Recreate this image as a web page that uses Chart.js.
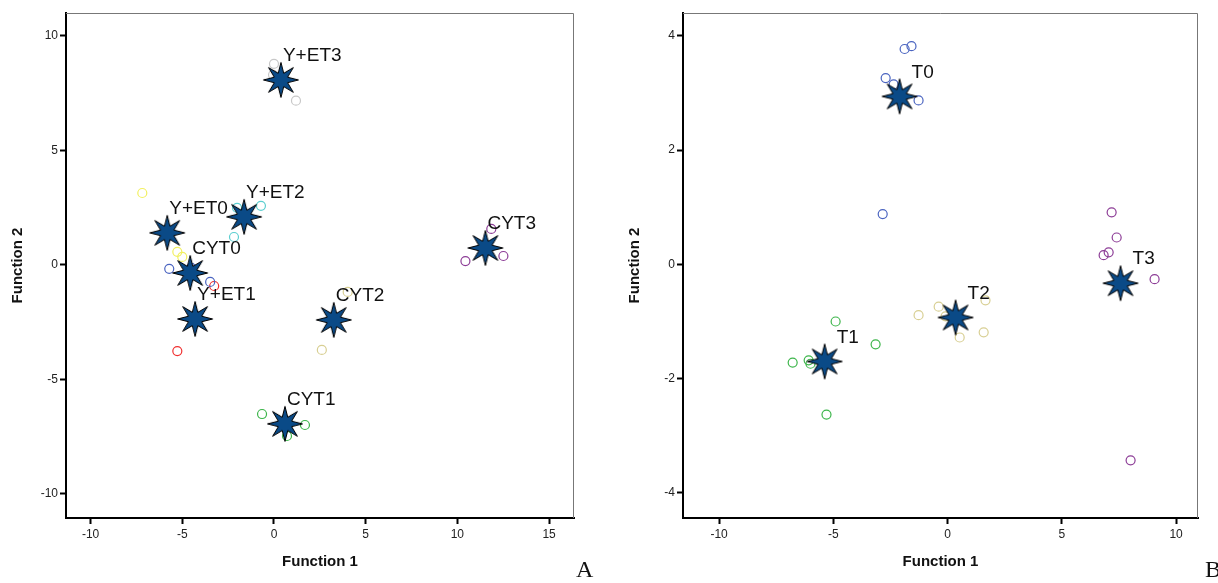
<!DOCTYPE html>
<html>
<head>
<meta charset="utf-8">
<script src="https://cdn.jsdelivr.net/npm/chart.js@4/dist/chart.umd.min.js"></script>
<style>
  body { margin: 0; background: #fff; width: 1218px; height: 583px; overflow: hidden; position: relative; }
  .panel { position: absolute; top: 0; height: 583px; }
  .letter { position: absolute; font-family: "Liberation Serif", "Times New Roman", serif; font-size: 24px; color: #111; }
</style>
</head>
<body>
<div class="panel" style="left:0;width:610px"><canvas id="chartA"></canvas></div>
<div class="panel" style="left:617px;width:601px"><canvas id="chartB"></canvas></div>
<div class="letter" style="left:576px;top:556px">A</div>
<div class="letter" style="left:1205px;top:556px">B</div>
<script>
// --- Panel A data ---
const groupsA = ['CYT0', 'CYT1', 'CYT2', 'CYT3', 'Y+ET0', 'Y+ET1', 'Y+ET2', 'Y+ET3'];
const centroidXA = [-4.57, 0.60, 3.26, 11.53, -5.82, -4.30, -1.63, 0.38];
const centroidYA = [-0.35, -6.94, -2.40, 0.74, 1.40, -2.36, 2.10, 8.08];
const casesXA = [
  [-5.71, -3.48, -4.51],
  [-0.65, 1.69, 0.71],
  [4.02, 2.61, 3.15],
  [11.85, 12.51, 10.44],
  [-7.18, -5.27, -5.00],
  [-3.26, -5.27, -4.35],
  [-0.71, -2.18, -2.01],
  [0.00, 1.20, -0.05]
];
const casesYA = [
  [-0.17, -0.74, -0.13],
  [-6.51, -6.99, -7.47],
  [-1.18, -3.71, -2.31],
  [1.57, 0.39, 0.17],
  [3.14, 0.57, 0.35],
  [-0.92, -3.76, -2.40],
  [2.58, 1.22, 2.49],
  [8.78, 7.17, 8.30]
];
const colorsA = ['#4a64c0', '#3cb54a', '#d8cf93', '#8c3c96', '#f2f060', '#f03030', '#5ccfd0', '#c8c8c8'];
const xTicksA = [-10, -5, 0, 5, 10, 15];
const yTicksA = [-10, -5, 0, 5, 10];

// --- Panel B data ---
const groupsB = ['T0', 'T1', 'T2', 'T3'];
const centroidXB = [-2.10, -5.38, 0.35, 7.57];
const centroidYB = [2.94, -1.70, -0.93, -0.33];
const casesXB = [
  [-1.88, -1.58, -2.71, -2.36, -1.27, -2.84],
  [-4.90, -3.15, -6.78, -6.08, -5.30, -6.00],
  [-1.27, -0.39, -0.09, 0.53, 1.58, 1.66],
  [7.18, 7.40, 7.05, 6.83, 9.06, 8.01]
];
const casesYB = [
  [3.77, 3.82, 3.26, 3.15, 2.87, 0.88],
  [-1.00, -1.40, -1.72, -1.68, -2.63, -1.74],
  [-0.89, -0.74, -0.91, -1.28, -1.19, -0.63],
  [0.91, 0.47, 0.21, 0.16, -0.26, -3.43]
];
const colorsB = ['#4a64c0', '#3cb54a', '#d8cf93', '#8c3c96'];
const xTicksB = [-10, -5, 0, 5, 10];
const yTicksB = [-4, -2, 0, 2, 4];

// 8-point star used for group centroids
function makeStar() {
  const c = document.createElement('canvas');
  c.width = 38; c.height = 38;
  const g = c.getContext('2d');
  g.beginPath();
  for (let i = 0; i < 16; i++) {
    const r = i % 2 === 0 ? 17.5 : 7.2;
    const a = -Math.PI / 2 + i * Math.PI / 8;
    const px = 19 + r * Math.cos(a), py = 19 + r * Math.sin(a);
    if (i === 0) g.moveTo(px, py); else g.lineTo(px, py);
  }
  g.closePath();
  g.fillStyle = '#0a4a87';
  g.fill();
  g.strokeStyle = '#000';
  g.lineWidth = 1;
  g.stroke();
  return c;
}
const starImg = makeStar();

const FONT = '"Liberation Sans", Arial, sans-serif';

// labels next to centroids + top/right frame
function panelPlugin(names, dx) {
  return {
    id: 'panelExtras',
    afterDatasetsDraw(chart) {
      const ctx = chart.ctx;
      const a = chart.chartArea;
      ctx.save();
      ctx.strokeStyle = '#777';
      ctx.lineWidth = 1;
      ctx.beginPath();
      ctx.moveTo(a.left, a.top + 0.5);
      ctx.lineTo(a.right - 0.5, a.top + 0.5);
      ctx.lineTo(a.right - 0.5, a.bottom);
      ctx.stroke();
      const meta = chart.getDatasetMeta(0);
      ctx.font = '19px ' + FONT;
      ctx.fillStyle = '#111';
      ctx.textAlign = 'left';
      ctx.textBaseline = 'middle';
      meta.data.forEach((pt, i) => {
        ctx.fillText(names[i], pt.x + dx, pt.y - 24);
      });
      ctx.restore();
    }
  };
}

function axis(ticks, range, title, isX, titlePad) {
  return {
    type: 'linear',
    position: isX ? 'bottom' : 'left',
    min: range[0],
    max: range[1],
    afterBuildTicks: s => { s.ticks = ticks.map(v => ({ value: v })); },
    afterFit: s => { if (isX) s.height = 65; else s.width = 66; },
    grid: { drawOnChartArea: false, drawTicks: true, tickLength: 6, tickColor: '#000', tickWidth: 2 },
    border: { display: true, color: '#000', width: 2 },
    ticks: { color: '#222', font: { family: FONT, size: 12 }, padding: isX ? 3 : 2, maxRotation: 0, autoSkip: false },
    title: { display: true, text: title, color: '#111', font: { family: FONT, size: 15, weight: 'bold' },
             padding: isX ? { bottom: titlePad } : { top: titlePad } }
  };
}

function buildChart(id, names, cx, cy, px, py, colors, xr, yr, xt, yt, padRight, dx) {
  const datasets = [{
    data: cx.map((v, i) => ({ x: v, y: cy[i] })),
    pointStyle: starImg,
    pointRadius: 17
  }];
  names.forEach((n, g) => {
    datasets.push({
      data: px[g].map((v, i) => ({ x: v, y: py[g][i] })),
      pointStyle: 'circle',
      pointRadius: 4.5,
      borderWidth: 1.2,
      borderColor: colors[g],
      backgroundColor: 'rgba(0,0,0,0)'
    });
  });
  new Chart(document.getElementById(id), {
    type: 'scatter',
    data: { datasets },
    options: {
      responsive: true,
      maintainAspectRatio: false,
      animation: false,
      events: [],
      layout: { autoPadding: false, padding: { top: 13, right: padRight, left: 0, bottom: 0 } },
      plugins: { legend: { display: false }, tooltip: { enabled: false } },
      scales: {
        x: axis(xt, xr, 'Function 1', true, 12),
        y: axis(yt, yr, 'Function 2', false, 9)
      }
    },
    plugins: [panelPlugin(names, dx)]
  });
}

buildChart('chartA', groupsA, centroidXA, centroidYA, casesXA, casesYA, colorsA,
  [-11.34, 16.36], [-11.05, 11.0], xTicksA, yTicksA, 36, 2);
buildChart('chartB', groupsB, centroidXB, centroidYB, casesXB, casesYB, colorsB,
  [-11.58, 10.96], [-4.44, 4.40], xTicksB, yTicksB, 20, 12);
</script>
</body>
</html>
